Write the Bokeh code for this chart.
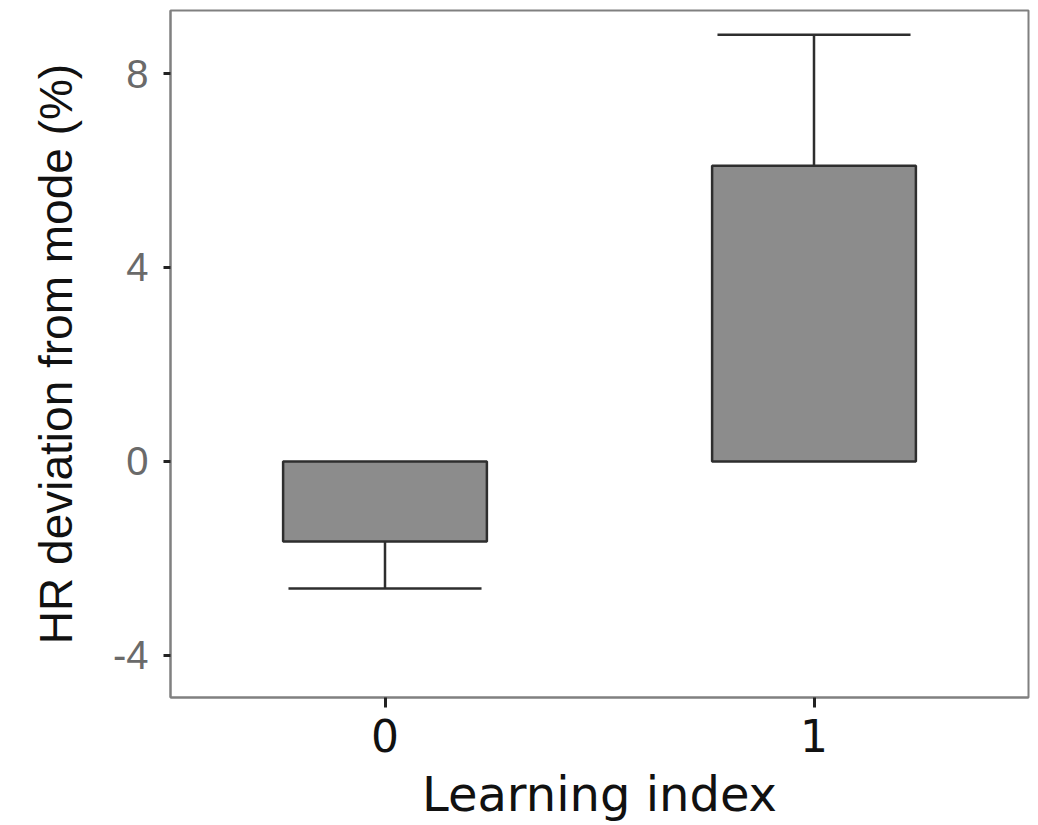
from bokeh.plotting import figure
from bokeh.models import Range1d, FixedTicker
from bokeh.embed import file_html
from bokeh.resources import INLINE

# data
categories = [0, 1]
box_low = [-1.65, 0.0]
box_high = [0.0, 6.1]
whisker_end = [-2.62, 8.8]
whisker_start = [-1.65, 6.1]
y_ticks = [-4, 0, 4, 8]
y_tick_labels = {-4: "-4", 0: "0", 4: "4", 8: "8"}
x_title = "Learning index"
y_title = "HR deviation from mode (%)"

FONT = "Liberation Sans"
FONT_X = "DejaVu Sans"

p = figure(width=1038, height=825, output_backend="svg", toolbar_location=None,
           x_range=Range1d(-0.5, 1.5), y_range=Range1d(-4.87, 9.3),
           min_border_left=170, min_border_right=10, min_border_top=10, min_border_bottom=128)

p.grid.visible = False
p.background_fill_color = "white"
p.outline_line_color = "#808080"
p.outline_line_width = 2

box_w = 0.475
cap_w = 0.45
p.quad(left=[c - box_w / 2 for c in categories], right=[c + box_w / 2 for c in categories],
       bottom=box_low, top=box_high, fill_color="#8c8c8c", line_color="#2e2e2e", line_width=2.5)
p.segment(x0=categories, x1=categories, y0=whisker_start, y1=whisker_end,
          line_color="#2e2e2e", line_width=2.5)
p.segment(x0=[c - cap_w / 2 for c in categories], x1=[c + cap_w / 2 for c in categories],
          y0=whisker_end, y1=whisker_end, line_color="#2e2e2e", line_width=2.5)

# y axis
ya = p.yaxis[0]
ya.ticker = FixedTicker(ticks=y_ticks)
ya.major_label_overrides = y_tick_labels
ya.minor_tick_line_color = None
ya.major_tick_in = 0
ya.major_tick_out = 7
ya.major_tick_line_width = 3
ya.major_tick_line_color = "#222222"
ya.axis_line_color = "#808080"
ya.axis_line_width = 2
ya.major_label_text_font = FONT
ya.major_label_text_font_size = "40px"
ya.major_label_text_color = "#6a6a6a"
ya.major_label_standoff = 15
ya.axis_label = y_title
ya.axis_label_text_font = FONT
ya.axis_label_text_font_size = "46px"
ya.axis_label_text_font_style = "normal"
ya.axis_label_text_color = "#111111"
ya.axis_label_standoff = 28

# x axis
xa = p.xaxis[0]
xa.ticker = FixedTicker(ticks=categories)
xa.minor_tick_line_color = None
xa.major_tick_in = 0
xa.major_tick_out = 10
xa.major_tick_line_width = 3
xa.major_tick_line_color = "#222222"
xa.axis_line_color = "#808080"
xa.axis_line_width = 2
xa.major_label_text_font = FONT_X
xa.major_label_text_font_size = "44px"
xa.major_label_text_color = "#111111"
xa.major_label_standoff = 11
xa.axis_label = x_title
xa.axis_label_text_font = FONT_X
xa.axis_label_text_font_size = "48px"
xa.axis_label_text_font_style = "normal"
xa.axis_label_text_color = "#111111"
xa.axis_label_standoff = 11

open("out.html", "w").write(file_html(p, INLINE))
